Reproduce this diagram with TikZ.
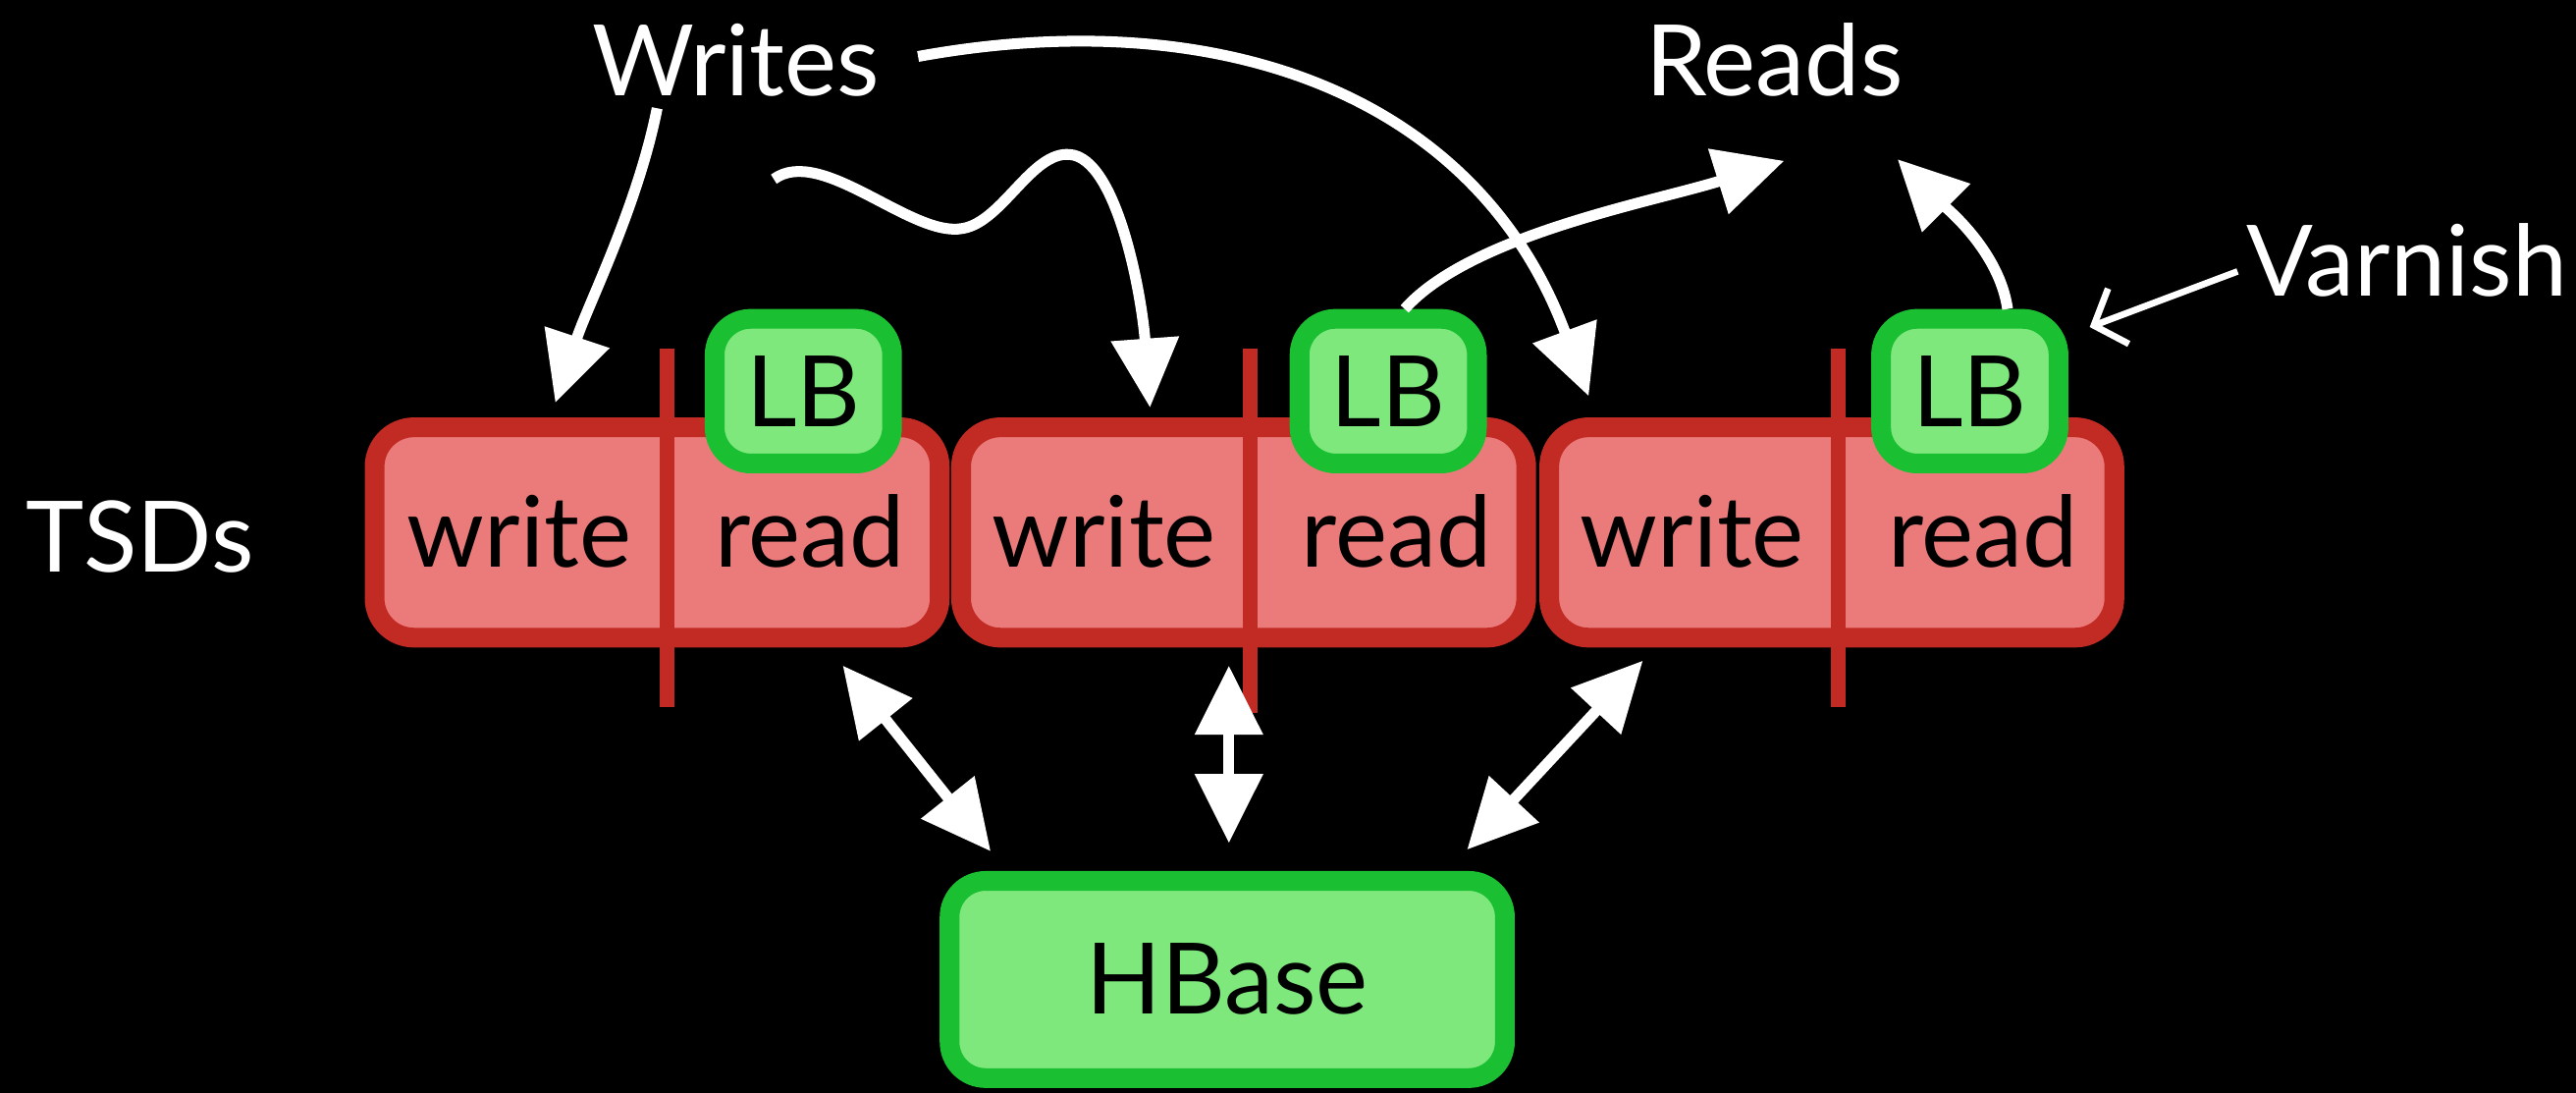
\documentclass[tikz,border=0pt]{standalone}
\usepackage{fontspec}
\setmainfont{Lato}
\usetikzlibrary{arrows.meta}
\definecolor{tsdline}{HTML}{C22A24}
\definecolor{tsdfill}{HTML}{EB7B7A}
\definecolor{lbline}{HTML}{1BBF32}
\definecolor{lbfill}{HTML}{7EE87D}

\begin{document}
\begin{tikzpicture}[x=0.5pt,y=-0.5pt,
  every node/.style={font=\fontsize{30}{36}\selectfont,inner sep=0pt},
  tsd/.style={draw=tsdline,fill=tsdfill,line width=6pt,rounded corners=12pt,minimum width=172pt,minimum height=64pt},
  lb/.style={draw=lbline,fill=lbfill,line width=6pt,rounded corners=11pt,minimum width=54pt,minimum height=44pt},
  hbase/.style={lb,minimum width=169pt,minimum height=60pt},
  divline/.style={draw=tsdline,line width=4.5pt},
  lbl/.style={text=white,anchor=base},
  arr/.style={draw=white,line width=3.3pt,-{Triangle[length=21pt,width=20pt]}},
  dblarr/.style={arr,{Triangle[length=21pt,width=20pt]}-{Triangle[length=21pt,width=20pt]}},
  thinarr/.style={draw=white,line width=2pt,-{Straight Barb[length=8pt,width=18pt]}}]
  \fill[black] (0,0) rectangle (1568,665);
  \useasboundingbox (0,0) rectangle (1568,665);
  % TSD boxes
  \path (400,324) node[tsd] (t1) {} (757,324) node[tsd] (t2) {} (1115,324) node[tsd] (t3) {};
  \draw[divline] ([shift={(6,-42)}]t1.north) -- ([shift={(6,36)}]t1.south);
  \draw[divline] ([shift={(4,-42)}]t2.north) -- ([shift={(4,40)}]t2.south);
  \draw[divline] ([shift={(4,-42)}]t3.north) -- ([shift={(4,36)}]t3.south);
  \path (316,345) node[anchor=base] (w1) {write} (493,345) node[anchor=base] (r1) {read}
  (672,345) node[anchor=base] (w2) {write} (850,345) node[anchor=base] (r2) {read}
  (1030,345) node[anchor=base] (w3) {write} (1207,345) node[anchor=base] (r3) {read};
  \path (489,238) node[lb] (lb1) {LB} (845,238) node[lb] (lb2) {LB} (1199,238) node[lb] (lb3) {LB};
  \path (747,596) node[hbase] (hb) {HBase};
  % labels
  \path (85,348) node[lbl] (tsds) {TSDs} (448,58) node[lbl] (wr) {Writes}
  (1080,58) node[lbl] (rd) {Reads} (1465,180) node[lbl] (var) {Varnish};
  \coordinate (wv) at (471,109);
  % writes
  \draw[arr] ([shift={(-48,7)}]wr.south) .. controls +(-12,60) and +(20,-60) .. ([shift={(-62,-9)}]t1.north);
  \draw[arr] ([shift={(23,-2)}]wr.east) .. controls +(187,-34) and +(-67,-181) .. ([shift={(-148,-13)}]t3.north);
  \draw[arr] (wv) .. controls (500,88) and (555,145) .. (586,139) .. controls (610,135) and (628,92) .. (651,94)
  .. controls (680,96) and (695,180) .. ([shift={(-57,-6)}]t2.north);
  % reads
  \draw[arr] ([shift={(10,0)}]lb2.north) .. controls +(40,-45) and +(-80,25) .. ([shift={(6,39)}]rd.south);
  \draw[arr] ([shift={(23,0)}]lb3.north) .. controls +(-5,-35) and +(30,30) .. ([shift={(75,38)}]rd.south);
  \draw[thinarr] ([shift={(-5,7)}]var.west) -- ([shift={(13,11)}]lb3.north east);
  % hbase
  \draw[dblarr] ([shift={(-65,11)}]t1.south east) -- ([shift={(31,-12)}]hb.north west);
  \draw[dblarr] ([shift={(-9,11)}]t2.south) -- ([shift={(1,-17)}]hb.north);
  \draw[dblarr] ([shift={(63,8)}]t3.south west) -- ([shift={(-29,-13)}]hb.north east);
\end{tikzpicture}
\end{document}
